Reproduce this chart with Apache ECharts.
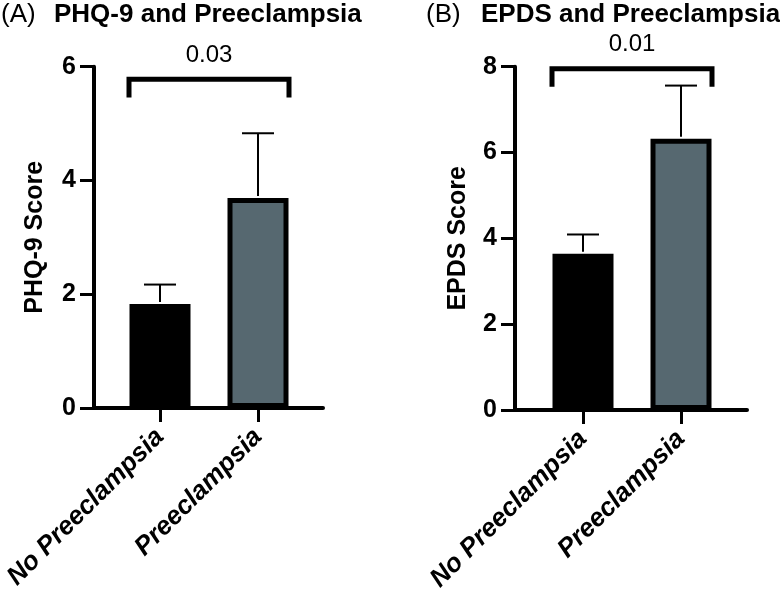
<!DOCTYPE html>
<html>
<head>
<meta charset="utf-8">
<script src="https://cdn.jsdelivr.net/npm/echarts@6/dist/echarts.min.js"></script>
<style>
html,body{margin:0;padding:0;background:#fff;}
#chart{width:780px;height:598px;}
</style>
</head>
<body>
<div id="chart"></div>
<script>
// ---- data ----
var categories = ['No Preeclampsia', 'Preeclampsia'];
var phqMeans = [1.83, 3.69];
var phqUpper = [2.17, 4.83];
var epdsMeans = [3.64, 6.32];
var epdsUpper = [4.09, 7.56];
var phqTicks = [0, 2, 4, 6];
var epdsTicks = [0, 2, 4, 6, 8];
var phqBracket = [5.78, 5.46];   // top, leg end
var epdsBracket = [7.95, 7.53];
var phqP = '0.03';
var epdsP = '0.01';
var titleA = ['(A)', 'PHQ-9 and Preeclampsia'];
var titleB = ['(B)', 'EPDS and Preeclampsia'];
var yNames = ['PHQ-9 Score', 'EPDS Score'];
var barColors = ['#000000', '#566870'];

var FONT = 'Liberation Sans, Arial, Helvetica, sans-serif';
var chart = echarts.init(document.getElementById('chart'));

function errorSeries(xi, yi, means, upper) {
  return {
    type: 'custom', xAxisIndex: xi, yAxisIndex: yi, z: 5,
    data: means.map(function (m, i) { return [i, m, upper[i]]; }),
    renderItem: function (params, api) {
      var p1 = api.coord([api.value(0), api.value(1)]);
      var p2 = api.coord([api.value(0), api.value(2)]);
      var hw = 16;
      var st = { stroke: '#000', lineWidth: 2 };
      return { type: 'group', children: [
        { type: 'line', shape: { x1: p1[0], y1: p1[1] - 2, x2: p2[0], y2: p2[1] }, style: st },
        { type: 'line', shape: { x1: p2[0] - hw, y1: p2[1], x2: p2[0] + hw, y2: p2[1] }, style: st }
      ]};
    }
  };
}

function bracketSeries(xi, yi, br, ptext) {
  return {
    type: 'custom', xAxisIndex: xi, yAxisIndex: yi, z: 6,
    data: [[0, 1, br[0], br[1]]],
    renderItem: function (params, api) {
      var a = api.coord([api.value(0), api.value(2)]);
      var b = api.coord([api.value(1), api.value(2)]);
      var aLeg = api.coord([api.value(0), api.value(3)]);
      var off = 31;
      var xl = a[0] - off, xr = b[0] + off;
      return { type: 'group', children: [
        { type: 'polyline', shape: { points: [[xl, aLeg[1]], [xl, a[1]], [xr, a[1]], [xr, aLeg[1]]] },
          style: { stroke: '#000', lineWidth: 5, fill: null, lineJoin: 'miter', lineCap: 'butt' } },
        { type: 'text', x: (xl + xr) / 2, y: a[1] - 24,
          style: { text: ptext, fill: '#000', font: '24px ' + FONT, textAlign: 'center', textVerticalAlign: 'middle' } }
      ]};
    }
  };
}

function axisGridY(gi, ticks, name, gap) {
  return {
    type: 'value', gridIndex: gi, min: ticks[0], max: ticks[ticks.length - 1], interval: ticks[1] - ticks[0],
    axisLine: { show: true, onZero: false, lineStyle: { color: '#000', width: 4 } },
    axisTick: { show: true, length: 14, lineStyle: { color: '#000', width: 3 } },
    axisLabel: { color: '#000', fontSize: 25, fontWeight: 'bold', fontFamily: FONT, margin: 18 },
    splitLine: { show: false },
    name: name, nameLocation: 'middle', nameGap: gap, nameRotate: 90,
    nameTextStyle: { color: '#000', fontSize: 25, fontWeight: 'bold', fontFamily: FONT }
  };
}
function hiddenY(gi, ticks) {
  return { type: 'value', gridIndex: gi, min: ticks[0], max: ticks[ticks.length - 1], show: false, splitLine: { show: false } };
}
function lineX(gi) {
  return { type: 'value', gridIndex: gi, min: 0, max: 1,
    axisLine: { show: true, onZero: false, lineStyle: { color: '#000', width: 4 } },
    axisTick: { show: false }, axisLabel: { show: false }, splitLine: { show: false } };
}
function catX(gi) {
  return { type: 'category', gridIndex: gi, data: categories,
    axisLine: { show: false },
    axisTick: { show: true, alignWithLabel: true, length: 14, lineStyle: { color: '#000', width: 3 } },
    axisLabel: { interval: 0, rotate: 45, margin: 25, color: '#000', fontSize: 26, fontWeight: 'bold', fontStyle: 'italic', fontFamily: FONT },
    splitLine: { show: false } };
}
function barSeries(xi, yi, means) {
  return { type: 'bar', xAxisIndex: xi, yAxisIndex: yi, barWidth: 61, z: 3,
    data: means.map(function (v, i) { return { value: v, itemStyle: { color: barColors[i] } }; }),
    itemStyle: { borderColor: '#000', borderWidth: 5 } };
}

var tstyle = function (w) { return { fontSize: 26, fontWeight: w, color: '#000', fontFamily: FONT }; };
var option = {
  animation: false,
  title: [
    { text: titleA[0], left: 1, top: 2, padding: 0, textStyle: tstyle('normal') },
    { text: titleA[1], left: 54, top: 2, padding: 0, textStyle: tstyle('bold') },
    { text: titleB[0], left: 426, top: 2, padding: 0, textStyle: tstyle('normal') },
    { text: titleB[1], left: 481, top: 2, padding: 0, textStyle: tstyle('bold') }
  ],
  grid: [
    { left: 94, right: 457, top: 66.7, bottom: 190 },
    { left: 111, right: 473, top: 66.7, bottom: 190 },
    { left: 515, right: 33, top: 66.7, bottom: 188 },
    { left: 534, right: 50, top: 66.7, bottom: 188 }
  ],
  xAxis: [lineX(0), catX(1), lineX(2), catX(3)],
  yAxis: [axisGridY(0, phqTicks, yNames[0], 46), hiddenY(1, phqTicks), axisGridY(2, epdsTicks, yNames[1], 44), hiddenY(3, epdsTicks)],
  series: [
    barSeries(1, 1, phqMeans),
    errorSeries(1, 1, phqMeans, phqUpper),
    bracketSeries(1, 1, phqBracket, phqP),
    barSeries(3, 3, epdsMeans),
    errorSeries(3, 3, epdsMeans, epdsUpper),
    bracketSeries(3, 3, epdsBracket, epdsP)
  ]
};
chart.setOption(option);
</script>
</body>
</html>
